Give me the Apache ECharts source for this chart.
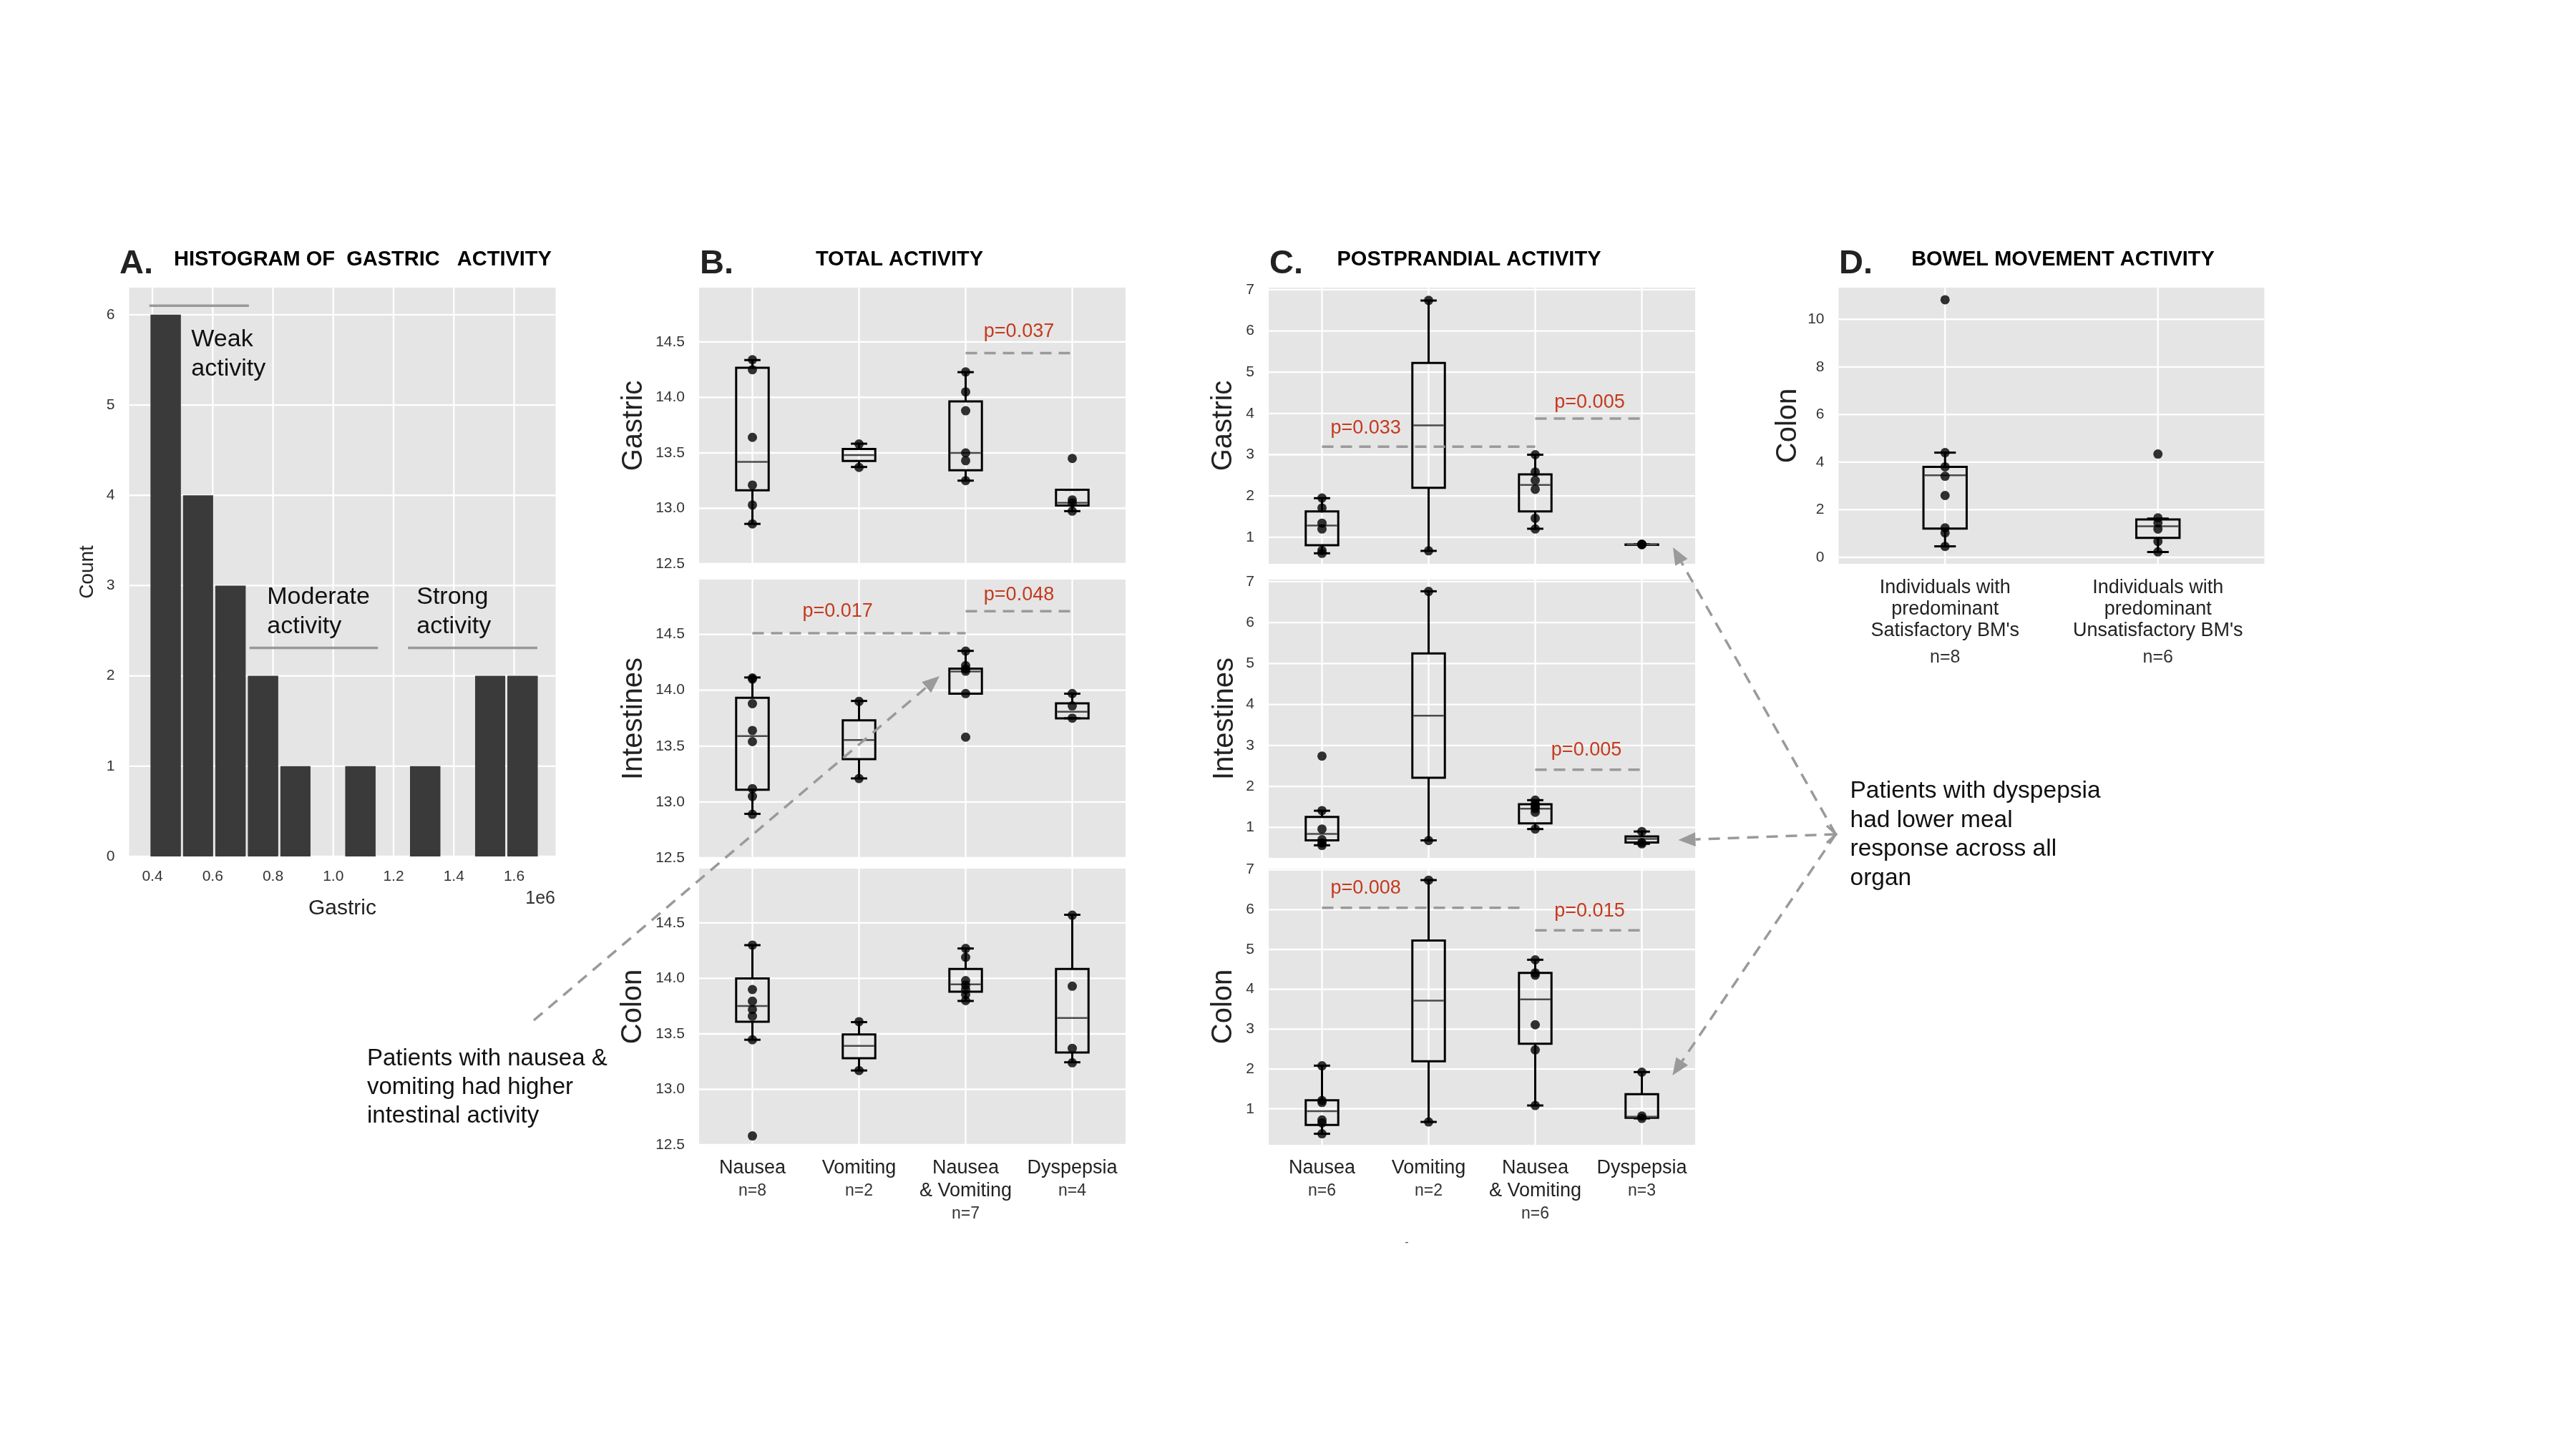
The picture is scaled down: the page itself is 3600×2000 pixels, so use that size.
<!DOCTYPE html>
<html><head><meta charset="utf-8">
<script src="https://cdn.jsdelivr.net/npm/echarts@6/dist/echarts.min.js"></script>
<style>html,body{margin:0;padding:0;background:#fff}#c{width:3600px;height:2000px}</style>
</head><body><div id="c"></div>
<script>
// ================= DATA =================
// Panel A: histogram of gastric activity
const histBinEdges = [0.390,0.498,0.605,0.713,0.821,0.928,1.036,1.144,1.251,1.359,1.467,1.574,1.682];
const histCounts   = [6,4,3,2,1,0,1,0,1,0,2,2];
const histXTicks   = [0.4,0.6,0.8,1.0,1.2,1.4,1.6];
const histYTicks   = [0,1,2,3,4,5,6];
const histGroupLabels = ['Weak\nactivity','Moderate\nactivity','Strong\nactivity'];
const histGroupRanges = [[0.39,0.72,6.1],[0.722,1.148,2.31],[1.248,1.677,2.31]];

// Panels B & C categories
const symptomGroups = ['Nausea','Vomiting','Nausea\n& Vomiting','Dyspepsia'];
const totalN = [8,2,7,4];
const postN  = [6,2,6,3];
const totalYTicks = [12.5,13.0,13.5,14.0,14.5];
const postYTicks  = [1,2,3,4,5,6,7];

// box stats: [min, q1, median, q3, max]
const totalGastricBox = [[12.86,13.163,13.42,14.268,14.337],[13.373,13.428,13.48,13.536,13.583],[13.25,13.344,13.50,13.964,14.228],[12.975,13.025,13.05,13.167,13.167]];
const totalGastricPts = [[14.34,14.25,13.64,13.21,13.03,12.86],[13.58,13.37],[14.23,14.05,13.88,13.50,13.43,13.25],[13.45,13.076,13.05,12.975]];
const totalIntestBox  = [[12.894,13.11,13.59,13.933,14.114],[13.211,13.384,13.554,13.731,13.904],[13.969,13.969,14.168,14.193,14.352],[13.749,13.749,13.807,13.883,13.969]];
const totalIntestPts  = [[14.11,14.10,13.88,13.64,13.54,13.12,13.05,12.89],[13.90,13.21],[14.35,14.22,14.19,14.17,13.97,13.58],[13.97,13.86,13.75]];
const totalColonBox   = [[13.447,13.61,13.751,14.0,14.30],[13.17,13.281,13.392,13.495,13.606],[13.797,13.88,13.947,14.085,14.27],[13.244,13.332,13.643,14.085,14.574]];
const totalColonPts   = [[14.30,13.90,13.795,13.72,13.66,13.447,12.58],[13.61,13.17],[14.27,14.19,13.98,13.94,13.90,13.855,13.80],[14.57,13.93,13.37,13.24]];

const postGastricBox = [[0.61,0.805,1.283,1.624,1.946],[0.668,2.2,3.712,5.224,6.737],[1.205,1.624,2.268,2.522,3.0],[0.824,0.824,0.824,0.824,0.824]];
const postGastricPts = [[1.95,1.71,1.34,1.20,0.68,0.61],[6.74,0.67],[3.0,2.58,2.38,2.16,1.46,1.20],[0.824,0.82,0.83]];
const postIntestBox  = [[0.563,0.683,0.84,1.258,1.407],[0.683,2.21,3.728,5.246,6.764],[0.96,1.10,1.456,1.565,1.665],[0.60,0.63,0.72,0.78,0.90]];
const postIntestPts  = [[2.74,1.41,0.96,0.70,0.62,0.56],[6.76,0.68],[1.665,1.565,1.52,1.46,1.37,0.96],[0.90,0.63,0.60]];
const postColonBox   = [[0.374,0.594,0.942,1.213,2.084],[0.671,2.194,3.716,5.226,6.742],[1.084,2.632,3.748,4.413,4.742],[0.76,0.774,0.80,1.368,1.923]];
const postColonPts   = [[2.08,1.21,1.16,0.72,0.645,0.374],[6.74,0.67],[4.74,4.41,4.355,3.11,2.48,1.084],[1.92,0.82,0.76]];

// p-values and comparison brackets [fromGroup, toGroup, level]
const totalGastricPvals = ['p=0.037'];
const totalGastricBrackets = [[2,3,14.40]];
const totalIntestPvals = ['p=0.017','p=0.048'];
const totalIntestBrackets = [[0,2,14.51],[2,3,14.706]];
const postGastricPvals = ['p=0.033','p=0.005'];
const postGastricBrackets = [[0,2,3.195],[2,3,3.878]];
const postIntestPvals = ['p=0.005'];
const postIntestBrackets = [[2,3,2.409]];
const postColonPvals = ['p=0.008','p=0.015'];
const postColonBrackets = [[0,1.885,6.045],[2,3,5.48]];

// Panel D
const bmGroups = ["Individuals with\npredominant\nSatisfactory BM's","Individuals with\npredominant\nUnsatisfactory BM's"];
const bmN = [8,6];
const bmYTicks = [0,2,4,6,8,10];
const bmBox = [[0.464,1.213,3.45,3.805,4.40],[0.226,0.82,1.308,1.593,1.63]];
const bmPts = [[10.82,4.40,3.805,3.41,2.60,1.24,1.03,0.46],[4.34,1.66,1.45,1.19,0.67,0.23]];

// ================= STYLE / LAYOUT =================
const FONT = '"Liberation Sans", Arial, Helvetica, sans-serif';
const BG = '#E5E5E5';
const TICKCOL = '#333333';
const PCOL = '#C43A1E';
const DASHCOL = '#9A9A9A';
const f = (size, weight) => (weight ? weight + ' ' : '') + size + 'px ' + FONT;

const grids = [], xAxis = [], yAxis = [], series = [];

function gridSeries(xi, yi, hVals, vVals, xRef, yRef) {
  const data = hVals.map(v => [0, v]).concat(vVals.map(v => [1, v]));
  return {
    type: 'custom', xAxisIndex: xi, yAxisIndex: yi, z: 1, silent: true, data,
    renderItem(params, api) {
      const cs = params.coordSys;
      const kind = api.value(0), v = api.value(1);
      const st = { stroke: '#FFFFFF', lineWidth: 2.3 };
      if (kind === 0) {
        const y = api.coord([xRef, v])[1];
        return { type: 'line', shape: { x1: cs.x, y1: y, x2: cs.x + cs.width, y2: y }, style: st };
      }
      const x = api.coord([v, yRef])[0];
      return { type: 'line', shape: { x1: x, y1: cs.y, x2: x, y2: cs.y + cs.height }, style: st };
    }
  };
}
function segSeries(xi, yi, segs, style, z) {
  return {
    type: 'custom', xAxisIndex: xi, yAxisIndex: yi, z: z || 3, silent: true,
    data: segs.map(s => [s[0], s[2], s[1]]),
    renderItem(params, api) {
      const p0 = api.coord([api.value(0), api.value(1)]);
      const p1 = api.coord([api.value(2), api.value(1)]);
      return { type: 'line', shape: { x1: p0[0], y1: p0[1], x2: p1[0], y2: p1[1] }, style };
    }
  };
}
function textSeries(xi, yi, pos, texts, style) {
  return {
    type: 'custom', xAxisIndex: xi, yAxisIndex: yi, z: 6, silent: true,
    data: pos.map((p, i) => [p[0], p[1], i]),
    renderItem(params, api) {
      const p = api.coord([api.value(0), api.value(1)]);
      return { type: 'text', x: p[0], y: p[1], style: Object.assign({ text: texts[api.value(2)] }, style) };
    }
  };
}
function boxSeries(xi, yi, boxes, boxW) {
  return {
    type: 'custom', xAxisIndex: xi, yAxisIndex: yi, z: 3, silent: true,
    data: boxes.map((b, i) => [i].concat(b)),
    renderItem(params, api) {
      const x = api.value(0);
      const mn = api.coord([x, api.value(1)]), q1 = api.coord([x, api.value(2)]),
            md = api.coord([x, api.value(3)]), q3 = api.coord([x, api.value(4)]),
            mx = api.coord([x, api.value(5)]);
      const half = api.size([boxW, 0])[0] / 2, cap = half / 2, cx = md[0];
      const bl = { stroke: '#000', lineWidth: 3, fill: null };
      return { type: 'group', children: [
        { type: 'line', shape: { x1: cx, y1: q3[1], x2: cx, y2: mx[1] }, style: bl },
        { type: 'line', shape: { x1: cx, y1: q1[1], x2: cx, y2: mn[1] }, style: bl },
        { type: 'line', shape: { x1: cx - cap, y1: mx[1], x2: cx + cap, y2: mx[1] }, style: bl },
        { type: 'line', shape: { x1: cx - cap, y1: mn[1], x2: cx + cap, y2: mn[1] }, style: bl },
        { type: 'rect', shape: { x: cx - half, y: q3[1], width: 2 * half, height: Math.max(q1[1] - q3[1], 0.5) }, style: { stroke: '#000', lineWidth: 3, fill: 'none' } },
        { type: 'line', shape: { x1: cx - half + 1.5, y1: md[1], x2: cx + half - 1.5, y2: md[1] }, style: { stroke: '#4A4A4A', lineWidth: 2.5 } }
      ] };
    }
  };
}

// ---------- Panel A ----------
grids.push({ left: 180.5, top: 402, width: 596, height: 795, show: true, backgroundColor: BG, borderWidth: 0 });
xAxis.push({ type: 'value', gridIndex: 0, min: 0.3228, max: 1.7377,
  axisLine: { show: false }, axisTick: { show: false, customValues: histXTicks }, splitLine: { show: false },
  axisLabel: { customValues: histXTicks, formatter: v => v.toFixed(1), fontSize: 21, color: TICKCOL, margin: 18, fontFamily: FONT },
  name: 'Gastric', nameLocation: 'middle', nameGap: 58, nameTextStyle: { fontSize: 30, color: '#222', fontFamily: FONT } });
yAxis.push({ type: 'value', gridIndex: 0, min: 0, max: 6.3,
  axisLine: { show: false }, axisTick: { show: false, customValues: histYTicks }, splitLine: { show: false },
  axisLabel: { customValues: histYTicks, fontSize: 21, color: TICKCOL, margin: 20, fontFamily: FONT },
  name: 'Count', nameLocation: 'middle', nameGap: 44, nameTextStyle: { fontSize: 28, color: '#222', fontFamily: FONT } });
series.push(gridSeries(0, 0, histYTicks, histXTicks, 1.0, 3));
series.push({
  type: 'custom', xAxisIndex: 0, yAxisIndex: 0, z: 2, silent: true,
  data: histCounts.map((c, i) => [histBinEdges[i], c, histBinEdges[i + 1]]).filter(d => d[1] > 0),
  renderItem(params, api) {
    const p0 = api.coord([api.value(0), api.value(1)]);
    const p1 = api.coord([api.value(2), 0]);
    return { type: 'rect', shape: { x: p0[0] + 1.5, y: p0[1], width: p1[0] - p0[0] - 3, height: p1[1] - p0[1] }, style: { fill: '#3A3A3A' } };
  }
});
series.push(segSeries(0, 0, histGroupRanges, { stroke: '#999999', lineWidth: 3.5 }));
series.push(textSeries(0, 0, [[0.529, 5.885], [0.7805, 3.035], [1.2765, 3.035]], histGroupLabels,
  { font: f(34), fill: '#111', textAlign: 'left', textVerticalAlign: 'top', lineHeight: 41 }));

// ---------- Box panels ----------
const richBC = { a: { fontSize: 27, lineHeight: 32, color: '#222', fontFamily: FONT }, n: { fontSize: 23, lineHeight: 32, color: '#333', fontFamily: FONT } };
const richD  = { a: { fontSize: 27, lineHeight: 30, color: '#222', fontFamily: FONT }, n: { fontSize: 25, lineHeight: 44, color: '#333', fontFamily: FONT } };

function makeBoxPanel(cfg) {
  const gi = grids.length;
  grids.push(Object.assign({ show: true, backgroundColor: BG, borderWidth: 0 }, cfg.grid));
  xAxis.push({ type: 'category', gridIndex: gi, data: cfg.cats, boundaryGap: true,
    axisLine: { show: false }, axisTick: { show: false }, splitLine: { show: false },
    axisLabel: { show: !!cfg.bottom, interval: 0, margin: cfg.labelMargin || 17, rich: cfg.rich || richBC,
      formatter: (v, i) => v.split('\n').map(s => '{a|' + s + '}').join('\n') + '\n{n|n=' + cfg.n[i] + '}' } });
  const vi = xAxis.length;
  xAxis.push({ type: 'value', gridIndex: gi, min: -0.5, max: cfg.cats.length - 0.5, show: false, position: 'top' });
  yAxis.push({ type: 'value', gridIndex: gi, min: cfg.yMin, max: cfg.yMax,
    axisLine: { show: false }, axisTick: { show: false, customValues: cfg.yTicks }, splitLine: { show: false },
    axisLabel: { customValues: cfg.yTicks, formatter: cfg.yFmt, fontSize: 21, color: TICKCOL, margin: 20, fontFamily: FONT },
    name: cfg.name, nameLocation: 'middle', nameGap: cfg.nameGap, nameTextStyle: { fontSize: 40, color: '#222', fontFamily: FONT } });
  const yi = gi;
  series.push(gridSeries(vi, yi, cfg.yTicks, cfg.cats.map((_, i) => i), 0, (cfg.yMin + cfg.yMax) / 2));
  series.push(boxSeries(vi, yi, cfg.box, cfg.boxW));
  series.push({ type: 'scatter', xAxisIndex: vi, yAxisIndex: yi, z: 4, silent: true, symbolSize: 13,
    itemStyle: { color: '#000' }, data: cfg.pts.flatMap((arr, i) => arr.map(v => [i, v])) });
  if (cfg.brackets) {
    series.push(segSeries(vi, yi, cfg.brackets, { stroke: DASHCOL, lineWidth: 3.5, lineDash: [16, 10] }));
    series.push(textSeries(vi, yi, cfg.pAt, cfg.pvals, { font: f(27), fill: PCOL, textAlign: 'center', textVerticalAlign: 'middle' }));
  }
}
const fmt1 = v => v.toFixed(1);
const fmt0 = v => String(v);
const colB = 977, colC = 1773, W = 596;
const rows = [{ top: 402, height: 386 }, { top: 810, height: 389 }, { top: 1214, height: 386 }];

makeBoxPanel({ grid: Object.assign({ left: colB, width: W }, rows[0]), cats: symptomGroups, n: totalN, box: totalGastricBox, pts: totalGastricPts,
  yMin: 12.5, yMax: 14.99, yTicks: totalYTicks, yFmt: fmt1, name: 'Gastric', nameGap: 71, boxW: 0.305,
  brackets: totalGastricBrackets, pvals: totalGastricPvals, pAt: [[2.5, 14.59]] });
makeBoxPanel({ grid: Object.assign({ left: colB, width: W }, rows[1]), cats: symptomGroups, n: totalN, box: totalIntestBox, pts: totalIntestPts,
  yMin: 12.5, yMax: 14.99, yTicks: totalYTicks, yFmt: fmt1, name: 'Intestines', nameGap: 71, boxW: 0.305,
  brackets: totalIntestBrackets, pvals: totalIntestPvals, pAt: [[0.80, 14.705], [2.5, 14.85]] });
makeBoxPanel({ grid: Object.assign({ left: colB, width: W }, rows[2]), cats: symptomGroups, n: totalN, box: totalColonBox, pts: totalColonPts,
  yMin: 12.5, yMax: 14.99, yTicks: totalYTicks, yFmt: fmt1, name: 'Colon', nameGap: 72, boxW: 0.305, bottom: true });

makeBoxPanel({ grid: Object.assign({ left: colC, width: W }, rows[0]), cats: symptomGroups, n: postN, box: postGastricBox, pts: postGastricPts,
  yMin: 0.355, yMax: 7.05, yTicks: postYTicks, yFmt: fmt0, name: 'Gastric', nameGap: 43, boxW: 0.305,
  brackets: postGastricBrackets, pvals: postGastricPvals, pAt: [[0.41, 3.634], [2.51, 4.268]] });
makeBoxPanel({ grid: Object.assign({ left: colC, width: W }, rows[1]), cats: symptomGroups, n: postN, box: postIntestBox, pts: postIntestPts,
  yMin: 0.256, yMax: 7.05, yTicks: postYTicks, yFmt: fmt0, name: 'Intestines', nameGap: 41, boxW: 0.305,
  brackets: postIntestBrackets, pvals: postIntestPvals, pAt: [[2.48, 2.885]] });
makeBoxPanel({ grid: Object.assign({ left: colC, width: W }, rows[2]), cats: symptomGroups, n: postN, box: postColonBox, pts: postColonPts,
  yMin: 0.097, yMax: 7.03, yTicks: postYTicks, yFmt: fmt0, name: 'Colon', nameGap: 43, boxW: 0.305, bottom: true,
  brackets: postColonBrackets, pvals: postColonPvals, pAt: [[0.41, 6.53], [2.51, 5.955]] });

makeBoxPanel({ grid: { left: 2569.5, top: 402, width: 595, height: 386 }, cats: bmGroups, n: bmN, box: bmBox, pts: bmPts,
  yMin: -0.27, yMax: 11.33, yTicks: bmYTicks, yFmt: fmt0, name: 'Colon', nameGap: 51, boxW: 0.203, bottom: true,
  rich: richD, labelMargin: 19 });

// ---------- graphic: titles, callouts ----------
const G = [];
function txt(x, y, text, font, opt) {
  G.push({ type: 'text', x, y, z: 100, silent: true,
    style: Object.assign({ text, font, fill: '#111', textAlign: 'left', textVerticalAlign: 'middle' }, opt || {}) });
}
function arrow(x1, y1, x2, y2) {
  const a = Math.atan2(y2 - y1, x2 - x1), L = 24, Wd = 10;
  const bx = x2 - L * Math.cos(a), by = y2 - L * Math.sin(a);
  G.push({ type: 'line', z: 100, silent: true, shape: { x1, y1, x2: bx, y2: by },
    style: { stroke: DASHCOL, lineWidth: 3.5, lineDash: [16, 11] } });
  G.push({ type: 'polygon', z: 100, silent: true,
    shape: { points: [[x2, y2], [bx + Wd * Math.sin(a), by - Wd * Math.cos(a)], [bx - Wd * Math.sin(a), by + Wd * Math.cos(a)]] },
    style: { fill: DASHCOL } });
}
txt(167, 369, 'A.', f(47, 'bold'), { fill: '#222' });
txt(243, 363, 'HISTOGRAM OF  GASTRIC   ACTIVITY', f(29, 'bold'), { fill: '#000' });
txt(978, 369, 'B.', f(47, 'bold'), { fill: '#222' });
txt(1257, 363, 'TOTAL ACTIVITY', f(29, 'bold'), { fill: '#000', textAlign: 'center' });
txt(1774, 369, 'C.', f(47, 'bold'), { fill: '#222' });
txt(2053, 363, 'POSTPRANDIAL ACTIVITY', f(29, 'bold'), { fill: '#000', textAlign: 'center' });
txt(2570, 369, 'D.', f(47, 'bold'), { fill: '#222' });
txt(2883, 363, 'BOWEL MOVEMENT ACTIVITY', f(29, 'bold'), { fill: '#000', textAlign: 'center' });
txt(776, 1256, '1e6', f(25), { fill: '#333', textAlign: 'right' });
txt(1966, 1737, '-', f(16), { fill: '#555', textAlign: 'center' });

txt(513, 1460, 'Patients with nausea &\nvomiting had higher\nintestinal activity', f(33),
  { textVerticalAlign: 'top', lineHeight: 40, fill: '#111' });
txt(2585.5, 1086, 'Patients with dyspepsia\nhad lower meal\nresponse across all\norgan', f(33.5),
  { textVerticalAlign: 'top', lineHeight: 40.5, fill: '#111' });

arrow(746, 1426, 1313, 945);
arrow(2565.5, 1166, 2338, 765);
arrow(2565.5, 1166, 2345.4, 1174);
arrow(2565.5, 1166, 2337.3, 1503);
G.push({ type: 'polyline', z: 100, silent: true, shape: { points: [[2553, 1154], [2566, 1166], [2553, 1178]] },
  style: { stroke: DASHCOL, lineWidth: 3.5, fill: null } });

const chart = echarts.init(document.getElementById('c'), null, { renderer: 'canvas' });
chart.setOption({
  animation: false,
  backgroundColor: '#FFFFFF',
  textStyle: { fontFamily: FONT },
  grid: grids, xAxis, yAxis, series,
  graphic: { elements: G }
});
</script></body></html>
